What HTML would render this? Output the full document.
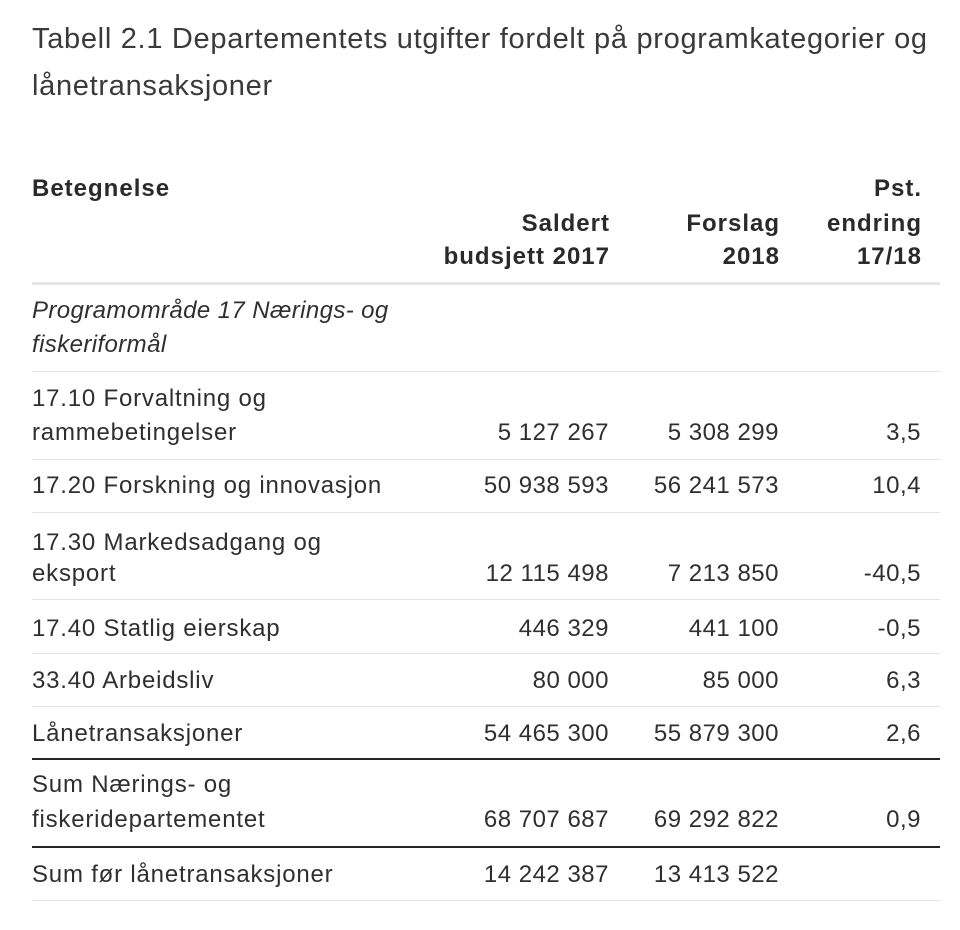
<!DOCTYPE html>
<html>
<head>
<meta charset="utf-8">
<style>
  html, body { margin:0; padding:0; background:#fff; }
  body { width:960px; height:930px; position:relative; overflow:hidden;
         font-family:"Liberation Sans", Arial, sans-serif; color:#2f2f2f; }
  .t { position:absolute; white-space:nowrap; font-size:24px; line-height:34px; }
  .lab { left:32px; letter-spacing:0.8px; }
  .it { font-style:italic; letter-spacing:0.4px; }
  .num { text-align:right; letter-spacing:0.5px; }
  .c1 { right:351px; }
  .c2 { right:181px; }
  .c3 { right:39px; }
  .h { font-weight:bold; letter-spacing:1px; color:#2a2a2a; }
  .hc1 { right:350px; }
  .hc2 { right:180px; }
  .hc3 { right:38px; }
  .title { position:absolute; left:32px; top:16px; font-size:29px; line-height:47px;
           letter-spacing:0.7px; color:#3a3a3a; white-space:nowrap; }
  .ln { position:absolute; left:32px; width:908px; height:1px; background:#e3e3e3; }
  .dk { position:absolute; left:32px; width:908px; height:2px; background:#262626; }
</style>
</head>
<body>
<div class="title">Tabell 2.1 Departementets utgifter fordelt på programkategorier og<br>lånetransaksjoner</div>

<!-- header -->
<div class="t h" style="left:32px;top:172px;">Betegnelse</div>
<div class="t h hc3" style="top:172px;">Pst.</div>
<div class="t h hc1" style="top:207px;">Saldert</div>
<div class="t h hc2" style="top:207px;">Forslag</div>
<div class="t h hc3" style="top:207px;">endring</div>
<div class="t h hc1" style="top:240px;">budsjett 2017</div>
<div class="t h hc2" style="top:240px;">2018</div>
<div class="t h hc3" style="top:240px;">17/18</div>
<div class="ln" style="top:282px;height:3px;background:#e6e6e6;"></div>

<!-- Programområde -->
<div class="t lab it" style="top:294px;">Programområde 17 Nærings- og</div>
<div class="t lab it" style="top:328px;">fiskeriformål</div>
<div class="ln" style="top:371px;"></div>

<!-- 17.10 -->
<div class="t lab" style="top:382px;">17.10 Forvaltning og</div>
<div class="t lab" style="top:416px;">rammebetingelser</div>
<div class="t num c1" style="top:416px;">5 127 267</div>
<div class="t num c2" style="top:416px;">5 308 299</div>
<div class="t num c3" style="top:416px;">3,5</div>
<div class="ln" style="top:459px;"></div>

<!-- 17.20 -->
<div class="t lab" style="top:469px;">17.20 Forskning og innovasjon</div>
<div class="t num c1" style="top:469px;">50 938 593</div>
<div class="t num c2" style="top:469px;">56 241 573</div>
<div class="t num c3" style="top:469px;">10,4</div>
<div class="ln" style="top:512px;"></div>

<!-- 17.30 -->
<div class="t lab" style="top:526px;">17.30 Markedsadgang og</div>
<div class="t lab" style="top:557px;">eksport</div>
<div class="t num c1" style="top:557px;">12 115 498</div>
<div class="t num c2" style="top:557px;">7 213 850</div>
<div class="t num c3" style="top:557px;">-40,5</div>
<div class="ln" style="top:599px;"></div>

<!-- 17.40 -->
<div class="t lab" style="top:612px;">17.40 Statlig eierskap</div>
<div class="t num c1" style="top:612px;">446 329</div>
<div class="t num c2" style="top:612px;">441 100</div>
<div class="t num c3" style="top:612px;">-0,5</div>
<div class="ln" style="top:653px;"></div>

<!-- 33.40 -->
<div class="t lab" style="top:664px;">33.40 Arbeidsliv</div>
<div class="t num c1" style="top:664px;">80 000</div>
<div class="t num c2" style="top:664px;">85 000</div>
<div class="t num c3" style="top:664px;">6,3</div>
<div class="ln" style="top:706px;"></div>

<!-- Lånetransaksjoner -->
<div class="t lab" style="top:717px;">Lånetransaksjoner</div>
<div class="t num c1" style="top:717px;">54 465 300</div>
<div class="t num c2" style="top:717px;">55 879 300</div>
<div class="t num c3" style="top:717px;">2,6</div>
<div class="dk" style="top:758px;"></div>

<!-- Sum Nærings -->
<div class="t lab" style="top:768px;">Sum Nærings- og</div>
<div class="t lab" style="top:803px;">fiskeridepartementet</div>
<div class="t num c1" style="top:803px;">68 707 687</div>
<div class="t num c2" style="top:803px;">69 292 822</div>
<div class="t num c3" style="top:803px;">0,9</div>
<div class="dk" style="top:846px;"></div>

<!-- Sum før -->
<div class="t lab" style="top:858px;">Sum før lånetransaksjoner</div>
<div class="t num c1" style="top:858px;">14 242 387</div>
<div class="t num c2" style="top:858px;">13 413 522</div>
<div class="ln" style="top:900px;"></div>
</body>
</html>
